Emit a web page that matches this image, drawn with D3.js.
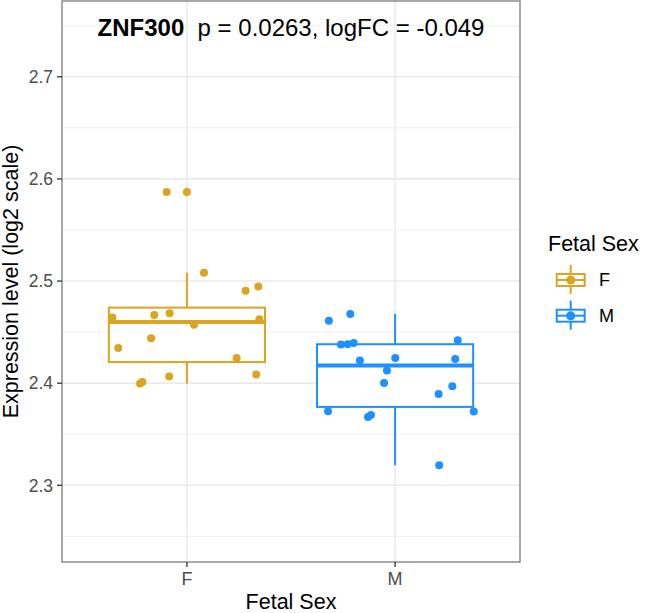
<!DOCTYPE html>
<html><head><meta charset="utf-8">
<script src="https://cdn.jsdelivr.net/npm/d3@7"></script>
<style>body{margin:0;background:#fff}svg{display:block}text{font-family:"Liberation Sans",Arial,sans-serif}</style>
</head><body>
<svg id="chart" width="645" height="613"></svg>
<script>
// ---- data ----
const categories = ["F", "M"];
const colors = {F: "#DAA520", M: "#1E90FF"};
const valuesF = [2.5873, 2.5080, 2.4904, 2.4947, 2.4643, 2.4668, 2.4685, 2.4571, 2.4626,
                 2.4345, 2.4440, 2.4247, 2.4012, 2.3996, 2.4065, 2.4085];
const jitterF = [-0.097, 0.082, 0.282, 0.343, -0.358, -0.157, -0.083, 0.034, 0.348,
                 -0.330, -0.172, 0.239, -0.214, -0.225, -0.085, 0.333];
const valuesM = [2.4610, 2.4678, 2.4379, 2.4382, 2.4394, 2.4222, 2.4247, 2.4124, 2.4002,
                 2.4421, 2.4237, 2.3970, 2.3895, 2.3725, 2.3669, 2.3689, 2.3722, 2.3196];
const jitterM = [-0.318, -0.215, -0.260, -0.228, -0.199, -0.169, 0.001, -0.039, -0.053,
                 0.301, 0.289, 0.275, 0.209, -0.322, -0.130, -0.116, 0.378, 0.212];
const yMajor = [2.3, 2.4, 2.5, 2.6, 2.7];
const yMinor = [2.25, 2.35, 2.45, 2.55, 2.65, 2.75];
const yLimits = [2.2249, 2.7742];
const geneName = "ZNF300";
const statText = "p = 0.0263, logFC = -0.049";
const xTitle = "Fetal Sex";
const yTitle = "Expression level (log2 scale)";
const legendTitle = "Fetal Sex";

// ---- layout ----
const P = {left: 62, top: 1, right: 520, bottom: 562};
const svg = d3.select("#chart");
const x = d3.scaleLinear().domain([0.4, 2.6]).range([P.left, P.right]);
const y = d3.scaleLinear().domain(yLimits).range([P.bottom, P.top]);
const boxW = 0.75;
const groups = [
  {key: "F", vals: valuesF, jit: jitterF, pos: 1},
  {key: "M", vals: valuesM, jit: jitterM, pos: 2}
];

// grid
const g = svg.append("g");
g.selectAll(".minor").data(yMinor).join("line")
  .attr("x1", P.left).attr("x2", P.right).attr("y1", d => y(d)).attr("y2", d => y(d))
  .attr("stroke", "#EBEBEB").attr("stroke-width", 0.8);
g.selectAll(".major").data(yMajor).join("line")
  .attr("x1", P.left).attr("x2", P.right).attr("y1", d => y(d)).attr("y2", d => y(d))
  .attr("stroke", "#EBEBEB").attr("stroke-width", 1.6);
g.selectAll(".vmajor").data(groups).join("line")
  .attr("x1", d => x(d.pos)).attr("x2", d => x(d.pos)).attr("y1", P.top).attr("y2", P.bottom)
  .attr("stroke", "#EBEBEB").attr("stroke-width", 1.6);

// boxplots
groups.forEach(gr => {
  const s = gr.vals.slice().sort(d3.ascending);
  const q1 = d3.quantile(s, 0.25), med = d3.quantile(s, 0.5), q3 = d3.quantile(s, 0.75);
  const iqr = q3 - q1;
  const lo = d3.min(s.filter(v => v >= q1 - 1.5 * iqr));
  const hi = d3.max(s.filter(v => v <= q3 + 1.5 * iqr));
  const outliers = s.filter(v => v < lo || v > hi);
  const c = colors[gr.key];
  const cx = x(gr.pos), x0 = x(gr.pos - boxW / 2), x1 = x(gr.pos + boxW / 2);
  const bg = svg.append("g");
  bg.append("line").attr("x1", cx).attr("x2", cx).attr("y1", y(q3)).attr("y2", y(hi))
    .attr("stroke", c).attr("stroke-width", 2);
  bg.append("line").attr("x1", cx).attr("x2", cx).attr("y1", y(q1)).attr("y2", y(lo))
    .attr("stroke", c).attr("stroke-width", 2);
  bg.append("rect").attr("x", x0).attr("y", y(q3)).attr("width", x1 - x0).attr("height", y(q1) - y(q3))
    .attr("fill", "#fff").attr("stroke", c).attr("stroke-width", 2);
  bg.append("line").attr("x1", x0).attr("x2", x1).attr("y1", y(med)).attr("y2", y(med))
    .attr("stroke", c).attr("stroke-width", 4);
  bg.selectAll(".out").data(outliers).join("circle")
    .attr("cx", cx).attr("cy", d => y(d)).attr("r", 4).attr("fill", c);
});

// jittered points
groups.forEach(gr => {
  svg.append("g").selectAll("circle").data(gr.vals).join("circle")
    .attr("cx", (d, i) => x(gr.pos + gr.jit[i])).attr("cy", d => y(d)).attr("r", 4)
    .attr("fill", colors[gr.key]);
});

// panel border
svg.append("rect").attr("x", P.left).attr("y", P.top).attr("width", P.right - P.left).attr("height", P.bottom - P.top)
  .attr("fill", "none").attr("stroke", "#7a7a7a").attr("stroke-width", 1.3);

// y axis
const ya = svg.append("g");
ya.selectAll("line").data(yMajor).join("line")
  .attr("x1", P.left - 5).attr("x2", P.left).attr("y1", d => y(d)).attr("y2", d => y(d))
  .attr("stroke", "#333").attr("stroke-width", 1.3);
ya.selectAll("text").data(yMajor).join("text")
  .attr("x", P.left - 9).attr("y", d => y(d)).attr("dy", "0.36em")
  .attr("text-anchor", "end").attr("font-size", 17.5).attr("fill", "#4D4D4D")
  .text(d => d3.format(".1f")(d));

// x axis
const xa = svg.append("g");
xa.selectAll("line").data(groups).join("line")
  .attr("x1", d => x(d.pos)).attr("x2", d => x(d.pos)).attr("y1", P.bottom).attr("y2", P.bottom + 5)
  .attr("stroke", "#333").attr("stroke-width", 1.3);
xa.selectAll("text").data(categories).join("text")
  .attr("x", (d, i) => x(i + 1)).attr("y", 585)
  .attr("text-anchor", "middle").attr("font-size", 18).attr("fill", "#4D4D4D").text(d => d);

// axis titles
svg.append("text").attr("x", (P.left + P.right) / 2).attr("y", 609)
  .attr("text-anchor", "middle").attr("font-size", 21.5).attr("fill", "#000").text(xTitle);
svg.append("text").attr("transform", `translate(17.5,${(P.top + P.bottom) / 2}) rotate(-90)`)
  .attr("text-anchor", "middle").attr("font-size", 21.5).attr("fill", "#000").text(yTitle);

// annotation title
const t = svg.append("text").attr("x", (P.left + P.right) / 2).attr("y", y(2.74))
  .attr("text-anchor", "middle").attr("font-size", 24).attr("fill", "#000");
t.append("tspan").attr("font-weight", "bold").text(geneName);
t.append("tspan").attr("xml:space", "preserve").text("\u00A0\u00A0" + statText);

// legend
const lg = svg.append("g");
lg.append("text").attr("x", 548).attr("y", 250.7).attr("font-size", 21.5).attr("fill", "#000").text(legendTitle);
categories.forEach((k, i) => {
  const cy = 280 + i * 35.7, cx = 570.7, c = colors[k];
  lg.append("line").attr("x1", cx).attr("x2", cx).attr("y1", cy - 15).attr("y2", cy + 14)
    .attr("stroke", c).attr("stroke-width", 2);
  lg.append("rect").attr("x", cx - 14).attr("y", cy - 6).attr("width", 28).attr("height", 12)
    .attr("fill", "#fff").attr("stroke", c).attr("stroke-width", 2);
  lg.append("line").attr("x1", cx - 14).attr("x2", cx + 14).attr("y1", cy).attr("y2", cy)
    .attr("stroke", c).attr("stroke-width", 2);
  lg.append("circle").attr("cx", cx).attr("cy", cy).attr("r", 4.5).attr("fill", c);
  lg.append("text").attr("x", 599).attr("y", cy).attr("dy", "0.36em").attr("font-size", 18)
    .attr("fill", "#000").text(k);
});
</script>
</body></html>
